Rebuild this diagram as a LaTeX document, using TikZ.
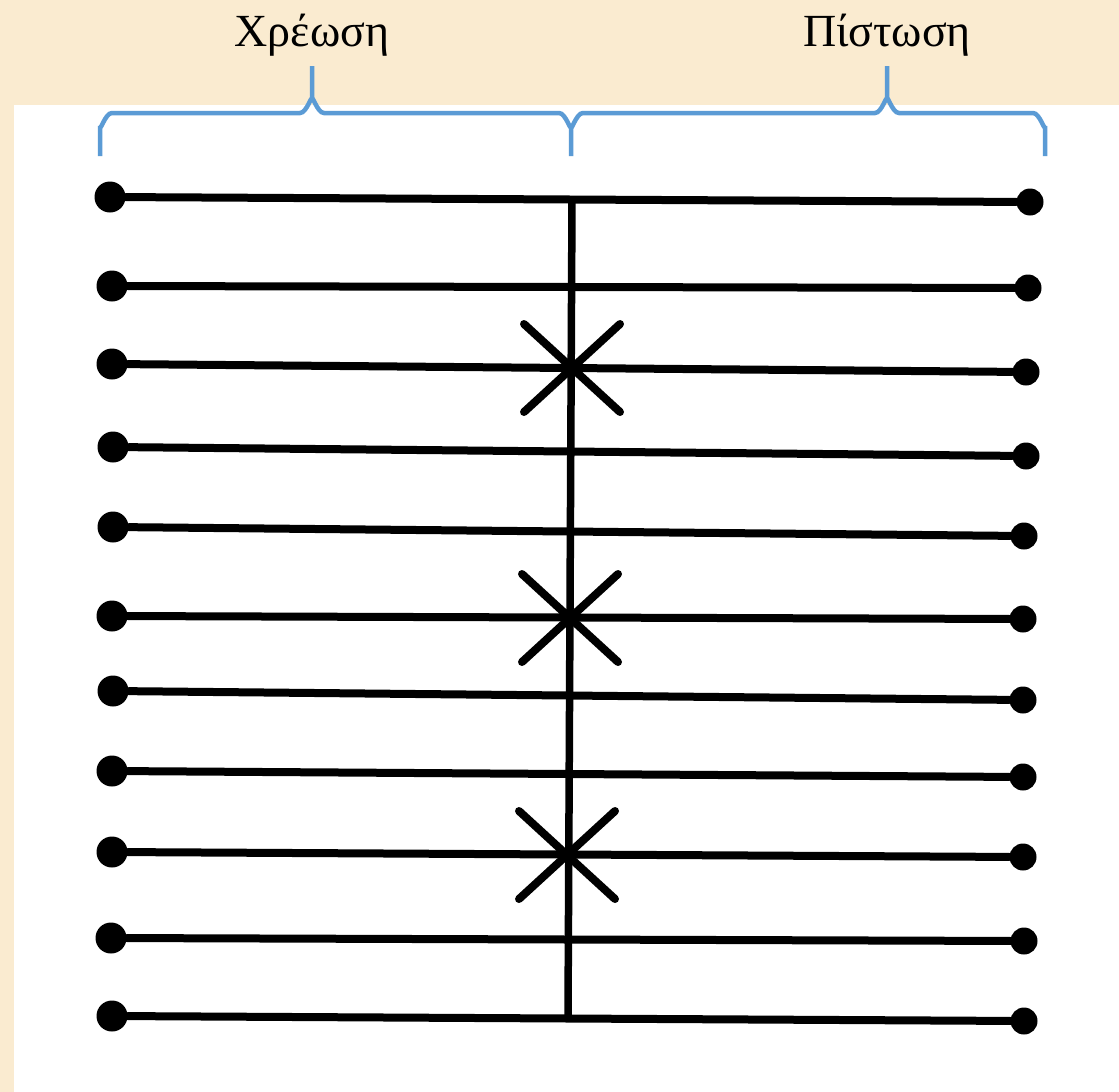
\documentclass[tikz,border=0pt]{standalone}
\usepackage{fontspec}
\setmainfont{Liberation Serif}
\usetikzlibrary{shapes.misc,positioning}
\definecolor{parch}{RGB}{250,235,208}
\definecolor{bracecol}{RGB}{91,155,213}

\begin{document}
\begin{tikzpicture}[x=1pt, y=-1pt,
  lbl/.style={font=\fontsize{46}{50}\selectfont, inner sep=0pt},
  brc/.style={draw=bracecol, line width=4.5pt},
  dotl/.style={circle, fill=black, inner sep=0pt, minimum size=31pt},
  dotr/.style={circle, fill=black, inner sep=0pt, minimum size=27pt},
  ln/.style={line width=8pt, line cap=round},
  starx/.style={draw, cross out, line width=8pt, line cap=round,
                minimum width=88pt, minimum height=80pt, inner sep=0pt}]
\useasboundingbox (0,0) rectangle (1119,1092);
% paper and sheet
\fill[parch] (0,0) rectangle (1119,1092);
\fill[white] (14,105) rectangle (1119,1092);
% headings
\node[lbl] (debit) at (312,35) {Χρέωση};
\node[lbl] (credit) at (887,35) {Πίστωση};
% braces
\draw[brc] (100,156) -- (100,126) to[out=-90, in=180] (112,113) -- (300,113)
  to[out=0, in=90] (312,100) -- (312,66);
\draw[brc] (312,100) to[out=90, in=180] (324,113) -- (559,113)
  to[out=0, in=-90] (571,126) -- (571,156);
\draw[brc] (571,126) to[out=-90, in=180] (583,113) -- (875,113)
  to[out=0, in=90] (887,100) -- (887,66);
\draw[brc] (887,100) to[out=90, in=180] (899,113) -- (1033,113)
  to[out=0, in=-90] (1045,126) -- (1045,156);
% left ends
\node[dotl] (l1) at (110,197) {};
\node[dotl] (l2) at (112,286) {};
\node[dotl] (l3) at (112,364) {};
\node[dotl] (l4) at (113,447) {};
\node[dotl] (l5) at (113,527) {};
\node[dotl] (l6) at (112,616) {};
\node[dotl] (l7) at (113,691) {};
\node[dotl] (l8) at (112,771) {};
\node[dotl] (l9) at (112,852) {};
\node[dotl] (l10) at (111,938) {};
\node[dotl] (l11) at (112,1016) {};
% right ends
\node[dotr] (r1) at (1030,202) {};
\node[dotr] (r2) at (1028,288) {};
\node[dotr] (r3) at (1026,372) {};
\node[dotr] (r4) at (1026,456) {};
\node[dotr] (r5) at (1024,536) {};
\node[dotr] (r6) at (1023,619) {};
\node[dotr] (r7) at (1023,700) {};
\node[dotr] (r8) at (1023,777) {};
\node[dotr] (r9) at (1023,857) {};
\node[dotr] (r10) at (1024,941) {};
\node[dotr] (r11) at (1024,1021) {};
% ledger lines
\draw[ln] (l1) -- (r1);
\draw[ln] (l2) -- (r2);
\draw[ln] (l3) -- (r3);
\draw[ln] (l4) -- (r4);
\draw[ln] (l5) -- (r5);
\draw[ln] (l6) -- (r6);
\draw[ln] (l7) -- (r7);
\draw[ln] (l8) -- (r8);
\draw[ln] (l9) -- (r9);
\draw[ln] (l10) -- (r10);
\draw[ln] (l11) -- (r11);
% middle rule and marks
\coordinate (top) at (572,200);
\coordinate (bot) at (568,1016);
\draw[line width=7.5pt] (top) -- (bot);
\node[starx] (x1) at (572,368) {};
\node[starx] (x2) at (570,618) {};
\node[starx] (x3) at (567,855) {};
\end{tikzpicture}
\end{document}
